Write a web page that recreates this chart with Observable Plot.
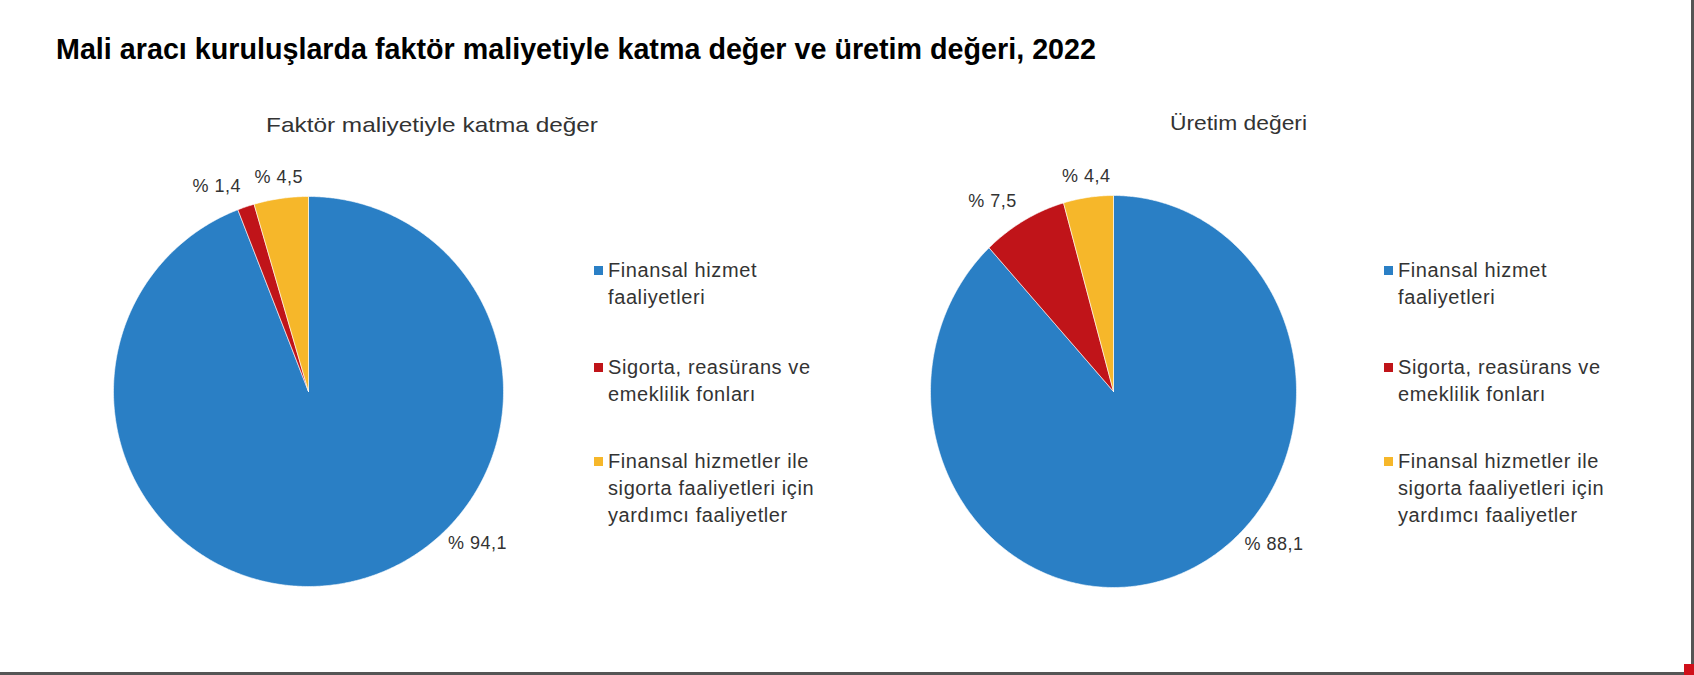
<!DOCTYPE html>
<html><head><meta charset="utf-8">
<script src="https://cdn.jsdelivr.net/npm/d3@7"></script>
<script src="https://cdn.jsdelivr.net/npm/@observablehq/plot@0.6"></script>
<style>
body{margin:0;background:#fff;font-family:"Liberation Sans",Arial,sans-serif;}
#wrap{position:relative;width:1694px;height:675px;overflow:hidden;background:#fff;}
.abs{position:absolute;white-space:nowrap;}
.plot{position:absolute;}
</style></head><body><div id="wrap"></div>
<script>
// ---- data ----
const title = "Mali aracı kuruluşlarda faktör maliyetiyle katma değer ve üretim değeri, 2022";
const chartTitles = ["Faktör maliyetiyle katma değer", "Üretim değeri"];
const categories = [
  "Finansal hizmet faaliyetleri",
  "Sigorta, reasürans ve emeklilik fonları",
  "Finansal hizmetler ile sigorta faaliyetleri için yardımcı faaliyetler"
];
const legendLines = [
  ["Finansal hizmet", "faaliyetleri"],
  ["Sigorta, reasürans ve", "emeklilik fonları"],
  ["Finansal hizmetler ile", "sigorta faaliyetleri için", "yardımcı faaliyetler"]
];
const valuesKatmaDeger = [94.1, 1.4, 4.5];
const valuesUretim = [88.1, 7.5, 4.4];

// ---- styles / layout ----
const colors = ["#2a7fc5", "#c01419", "#f6b72a"];
const textColor = "#333333";
const wrap = document.getElementById("wrap");

function addText(str, {left, cy, size, weight = "normal", color = textColor, width = null, spacing = 0}) {
  const el = document.createElement("div");
  el.className = "abs";
  el.textContent = str;
  el.style.left = left + "px";
  el.style.fontSize = size + "px";
  el.style.lineHeight = size + "px";
  el.style.top = (cy - size / 2) + "px";
  el.style.fontWeight = weight;
  el.style.color = color;
  el.style.letterSpacing = spacing + "px";
  wrap.appendChild(el);
  if (width) {
    const w = el.getBoundingClientRect().width;
    el.style.transformOrigin = "0 50%";
    el.style.transform = `scaleX(${width / w})`;
  }
  return el;
}

const fmt = v => "% " + v.toFixed(1).replace(".", ",");

function piePlot(values, {left, top, width, height, cx, cy, rx, ry}) {
  const data = categories.map((c, i) => ({category: c, value: values[i]}));
  const arcs = d3.pie().sort(null).value(d => d.value)(data);
  const poly = [];
  arcs.forEach(a => {
    const n = Math.max(3, Math.ceil((a.endAngle - a.startAngle) / 0.008));
    poly.push({category: a.data.category, x: 0, y: 0});
    for (let k = 0; k <= n; k++) {
      const t = a.startAngle + (a.endAngle - a.startAngle) * k / n;
      poly.push({category: a.data.category, x: Math.sin(t), y: Math.cos(t)});
    }
    poly.push({category: a.data.category, x: 0, y: 0});
  });
  const maxV = d3.max(values);
  const labels = arcs.map(a => {
    const big = a.data.value === maxV;
    const t = big ? (136 * Math.PI / 180) : (a.startAngle + a.endAngle) / 2;
    const r = big ? 1.03 : 1.08;
    const s = Math.sin(t), c = Math.cos(t);
    return {
      x: r * s, y: r * c, text: fmt(a.data.value),
      ta: Math.abs(s) < 0.3 ? "middle" : (s < 0 ? "end" : "start"),
      la: c > 0.3 ? "bottom" : (c < -0.3 ? "top" : "middle")
    };
  });
  const lcx = cx - left, lcy = cy - top;
  const textMarks = [];
  for (const ta of ["start", "middle", "end"]) for (const la of ["top", "middle", "bottom"]) {
    if (labels.some(d => d.ta === ta && d.la === la)) {
      textMarks.push(Plot.text(labels.filter(d => d.ta === ta && d.la === la), {
        x: "x", y: "y", text: "text", textAnchor: ta, lineAnchor: la,
        fontSize: 18, fill: textColor, fontFamily: "Liberation Sans, Arial, sans-serif"
      }));
    }
  }
  const svg = Plot.plot({
    width, height, margin: 0,
    style: {background: "transparent", overflow: "visible"},
    x: {domain: [-lcx / rx, (width - lcx) / rx], axis: null},
    y: {domain: [-(height - lcy) / ry, lcy / ry], axis: null},
    color: {domain: categories, range: colors},
    marks: [
      Plot.line(poly, {x: "x", y: "y", z: "category", fill: "category", stroke: "#ffffff", strokeWidth: 0.6, curve: "linear"}),
      ...textMarks
    ]
  });
  svg.classList.add("plot");
  svg.style.left = left + "px";
  svg.style.top = top + "px";
  svg.style.letterSpacing = "0.5px";
  wrap.appendChild(svg);
}

piePlot(valuesKatmaDeger, {left: 0, top: 80, width: 847, height: 595, cx: 308, cy: 391, rx: 195, ry: 195});
piePlot(valuesUretim, {left: 847, top: 80, width: 847, height: 595, cx: 1113, cy: 391, rx: 183, ry: 196});

// title and subtitles
addText(title, {left: 56, cy: 49, size: 29, weight: "bold", color: "#000", width: 1040});
addText(chartTitles[0], {left: 266, cy: 124, size: 21, width: 332});
addText(chartTitles[1], {left: 1170, cy: 122, size: 21, width: 137});

// legends
function legend(textLeft) {
  const itemTops = [270, 367, 461];
  const lineStep = 27;
  legendLines.forEach((lines, i) => {
    const sq = document.createElement("div");
    sq.className = "abs";
    sq.style.left = (textLeft - 14) + "px";
    sq.style.top = (itemTops[i] - 4) + "px";
    sq.style.width = "9px"; sq.style.height = "9px";
    sq.style.background = colors[i];
    wrap.appendChild(sq);
    lines.forEach((ln, j) => addText(ln, {left: textLeft, cy: itemTops[i] + j * lineStep, size: 20, spacing: 0.6}));
  });
}
legend(608);
legend(1398);

// frame edges
const edges = [
  {left: 1691, top: 0, width: 3, height: 675, bg: "#555"},
  {left: 0, top: 672, width: 1694, height: 3, bg: "#555"},
  {left: 1684, top: 664, width: 10, height: 11, bg: "#d0101a"}
];
edges.forEach(e => {
  const d = document.createElement("div");
  d.className = "abs";
  Object.assign(d.style, {left: e.left + "px", top: e.top + "px", width: e.width + "px", height: e.height + "px", background: e.bg});
  wrap.appendChild(d);
});
</script>
</body></html>
